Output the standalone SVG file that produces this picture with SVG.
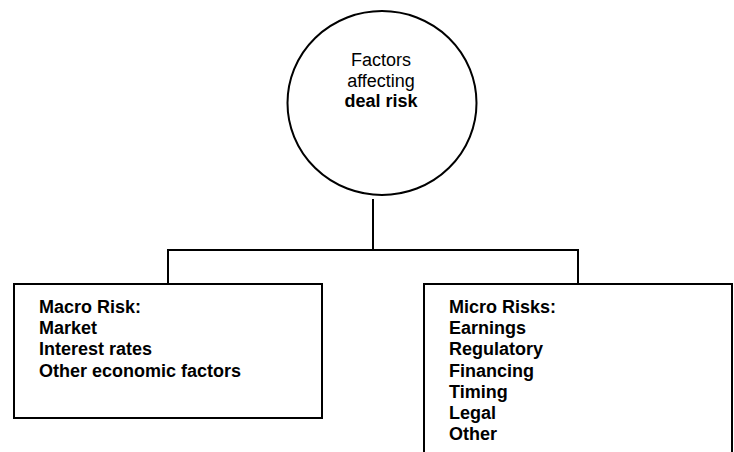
<svg xmlns="http://www.w3.org/2000/svg" width="734" height="452" viewBox="0 0 734 452">
<style>
.ln{fill:none;stroke:#000;stroke-width:2}
.t{font-family:"Liberation Sans",Arial,sans-serif;font-size:18px;fill:#000}
.b{font-weight:bold}
</style>
<rect width="734" height="452" fill="#fff"/>
<g id="connectors">
<path class="ln" d="M373,199 V250"/>
<path class="ln" d="M168,284 V250 H578 V284"/>
</g>
<g id="root">
<ellipse class="ln" cx="382" cy="103" rx="94.5" ry="92"/>
<text class="t" x="381" y="66" text-anchor="middle">Factors</text>
<text class="t" x="381" y="86.5" text-anchor="middle">affecting</text>
<text class="t b" x="381" y="107" text-anchor="middle">deal risk</text>
</g>
<g id="macro">
<rect class="ln" x="14" y="284" width="308" height="134"/>
<text class="t b" x="39" y="313">Macro Risk:</text>
<text class="t b" x="39" y="334.2">Market</text>
<text class="t b" x="39" y="355.4">Interest rates</text>
<text class="t b" x="39" y="376.6">Other economic factors</text>
</g>
<g id="micro">
<rect class="ln" x="424" y="284" width="308" height="190"/>
<text class="t b" x="449" y="313">Micro Risks:</text>
<text class="t b" x="449" y="334.2">Earnings</text>
<text class="t b" x="449" y="355.4">Regulatory</text>
<text class="t b" x="449" y="376.6">Financing</text>
<text class="t b" x="449" y="397.8">Timing</text>
<text class="t b" x="449" y="419">Legal</text>
<text class="t b" x="449" y="440.2">Other</text>
</g>
</svg>
